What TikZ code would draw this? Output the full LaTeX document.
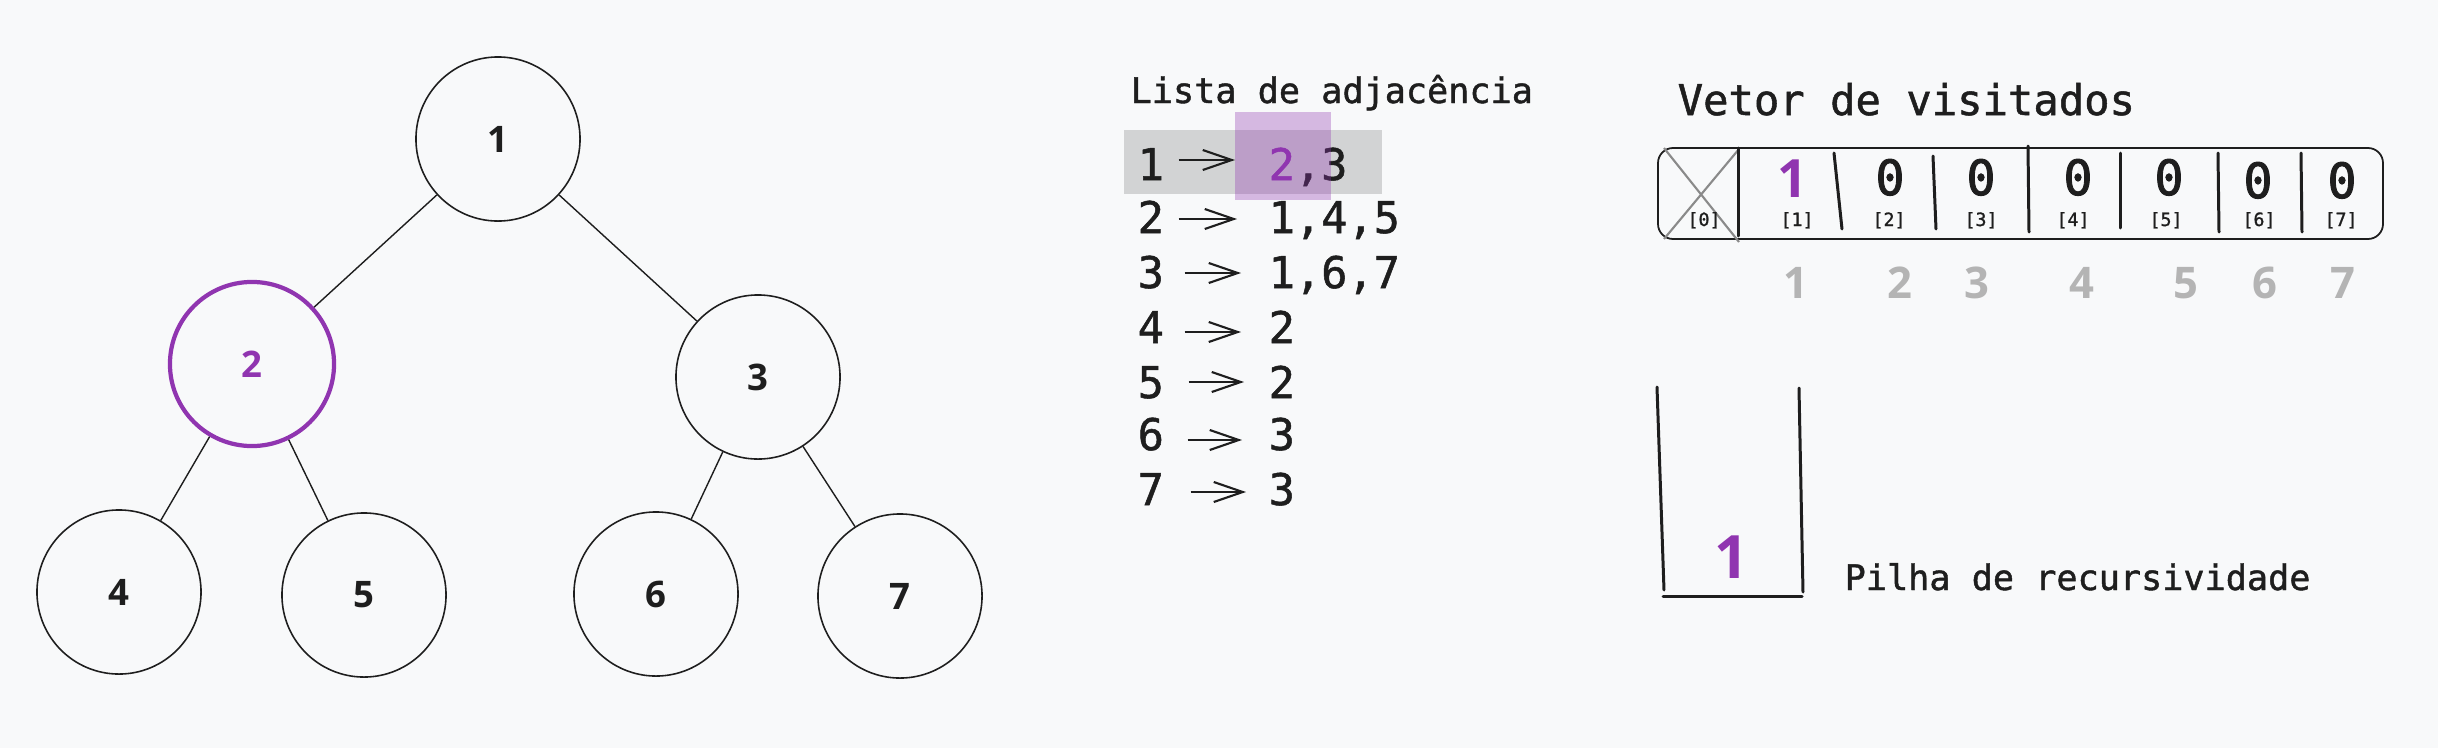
\documentclass[tikz,border=0pt]{standalone}
\usepackage{fontspec}
\usetikzlibrary{arrows.meta,calc}
\newfontfamily\monofont[FakeBold=1.2]{DejaVu Sans Mono}
\newfontfamily\monoheavy[FakeBold=1.8]{DejaVu Sans Mono}
\newfontfamily\digfont{Open Sans}
\definecolor{bgc}{HTML}{F8F9FA}
\definecolor{ink}{HTML}{1E1E1E}
\definecolor{vio}{HTML}{9035B0}
\definecolor{lightnum}{HTML}{B4B4B4}
\definecolor{crossgray}{HTML}{8A8A8A}
\definecolor{hlgray}{HTML}{D2D3D4}
\tikzset{
  treenode/.style={circle, draw=ink, line width=0.45pt, minimum size=1.64cm, inner sep=0pt,
    font=\digfont\bfseries\fontsize{10.4}{12}\selectfont, text=ink},
  visitednode/.style={draw=vio, line width=1.2pt, text=vio},
  treeedge/.style={draw=ink, line width=0.4pt},
  listtxt/.style={inner sep=0pt, anchor=base west, font=\monofont\fontsize{12.4}{14}\selectfont, text=ink},
  listarrow/.style={draw=ink, line width=0.6pt, -{Straight Barb[length=2.9mm,width=2mm]}},
  headtxt/.style={inner sep=0pt, anchor=base west, text=ink},
  cellval/.style={inner sep=0pt, anchor=base, font=\monoheavy\fontsize{13.8}{15}\selectfont, text=ink},
  zerodot/.style={fill=ink, draw=none},
  cellidx/.style={inner sep=0pt, anchor=base, font=\monofont\fontsize{5.2}{6}\selectfont, text=ink},
  grayidx/.style={inner sep=0pt, anchor=base, font=\digfont\bfseries\fontsize{12.4}{14}\selectfont, text=lightnum},
  divider/.style={draw=ink, line width=0.85pt, line cap=round},
  stackline/.style={draw=ink, line width=0.85pt, line cap=round},
}
\begin{document}
\begin{tikzpicture}[x=0.01cm,y=-0.01cm]
\fill[bgc] (0,0) rectangle (2438,748);
\useasboundingbox (0,0) rectangle (2438,748);

% ---------- tree ----------
\node[treenode] (n1) at (498,139) {1};
\node[treenode,visitednode] (n2) at (252,364) {2};
\node[treenode] (n3) at (758,377) {3};
\node[treenode] (n4) at (119,592) {4};
\node[treenode] (n5) at (364,595) {5};
\node[treenode] (n6) at (656,594) {6};
\node[treenode] (n7) at (900,596) {7};
\draw[treeedge] (n1) -- (n2);
\draw[treeedge] (n1) -- (n3);
\draw[treeedge] (n2) -- (n4);
\draw[treeedge] (n2) -- (n5);
\draw[treeedge] (n3) -- (n6);
\draw[treeedge] (n3) -- (n7);

% ---------- adjacency list ----------
\node[headtxt, font=\monofont\fontsize{10}{12}\selectfont] (ltitle) at (1130,103) {Lista de adjacência};
\fill[hlgray] (1124,130) rectangle (1382,194);
\node[listtxt] (l1) at (1137,180) {1};
\node[listtxt] (r1) at (1268,180) {\textcolor{vio}{2},3};
\node[listtxt] (l2) at (1137,233) {2};
\node[listtxt] (r2) at (1268,233) {1,4,5};
\node[listtxt] (l3) at (1137,288) {3};
\node[listtxt] (r3) at (1268,288) {1,6,7};
\node[listtxt] (l4) at (1137,343) {4};
\node[listtxt] (r4) at (1268,343) {2};
\node[listtxt] (l5) at (1137,398) {5};
\node[listtxt] (r5) at (1268,398) {2};
\node[listtxt] (l6) at (1137,450) {6};
\node[listtxt] (r6) at (1268,450) {3};
\node[listtxt] (l7) at (1137,505) {7};
\node[listtxt] (r7) at (1268,505) {3};
\draw[listarrow] ($(l1.base east)+(14,-20)$) -- ($(r1.base west)+(-33,-20)$);
\draw[listarrow] ($(l2.base east)+(14,-14)$) -- ($(r2.base west)+(-31,-14)$);
\draw[listarrow] ($(l3.base east)+(20,-15)$) -- ($(r3.base west)+(-27,-15)$);
\draw[listarrow] ($(l4.base east)+(20,-11)$) -- ($(r4.base west)+(-27,-11)$);
\draw[listarrow] ($(l5.base east)+(24,-16)$) -- ($(r5.base west)+(-24,-16)$);
\draw[listarrow] ($(l6.base east)+(23,-10)$) -- ($(r6.base west)+(-26,-10)$);
\draw[listarrow] ($(l7.base east)+(26,-13)$) -- ($(r7.base west)+(-22,-13)$);
\fill[vio, fill opacity=0.33] (1235,112) rectangle (1331,200);

% ---------- visited vector ----------
\node[headtxt, font=\monofont\fontsize{12}{14}\selectfont] (vtitle) at (1677,115) {Vetor de visitados};
\draw[ink, line width=0.5pt, rounded corners=1.5mm] (1658,148) rectangle (2383,239);
\draw[crossgray, line width=0.6pt] (1664,148) -- (1739,242);
\draw[crossgray, line width=0.6pt] (1664,239) -- (1739,149);
\draw[divider] (1738,148) -- (1738,236);
\draw[divider] (1834,153) -- (1842,229);
\draw[divider] (1933,156) -- (1936,229);
\draw[divider] (2028,146) -- (2029,232);
\draw[divider] (2120,153) -- (2120,228);
\draw[divider] (2218,153) -- (2219,232);
\draw[divider] (2301,153) -- (2302,232);

\node[cellval, font=\digfont\bfseries\fontsize{15}{17}\selectfont, text=vio] (v1) at (1793,197) {1};
\node[cellval] (v2) at (1890,195) {0};
\node[cellval] (v3) at (1981,195) {0};
\node[cellval] (v4) at (2078,195) {0};
\node[cellval] (v5) at (2169,195) {0};
\node[cellval] (v6) at (2258,198) {0};
\node[cellval] (v7) at (2342,198) {0};
\foreach \v in {v2,v3,v4,v5,v6,v7}{
  \fill[zerodot] ($(\v.base)+(0,-17.5)$) ellipse [x radius=3.3, y radius=4.2];
}

\node[cellidx] (i0) at (1704,226) {[0]};
\node[cellidx] (i1) at (1797,226) {[1]};
\node[cellidx] (i2) at (1889,226) {[2]};
\node[cellidx] (i3) at (1981,226) {[3]};
\node[cellidx] (i4) at (2073,226) {[4]};
\node[cellidx] (i5) at (2166,226) {[5]};
\node[cellidx] (i6) at (2259,226) {[6]};
\node[cellidx] (i7) at (2341,226) {[7]};

\node[grayidx] (g1) at (1796,298) {1};
\node[grayidx] (g2) at (1900,298) {2};
\node[grayidx] (g3) at (1977,298) {3};
\node[grayidx] (g4) at (2082,298) {4};
\node[grayidx] (g5) at (2186,298) {5};
\node[grayidx] (g6) at (2265,298) {6};
\node[grayidx] (g7) at (2343,298) {7};

% ---------- recursion stack ----------
\draw[stackline] (1657,387) -- (1664,590);
\draw[stackline] (1799,388) -- (1803,592);
\draw[stackline] (1663,596) -- (1802,596);
\node[inner sep=0pt, anchor=base, font=\digfont\bfseries\fontsize{17}{19}\selectfont, text=vio] (s1) at (1732,578) {1};
\node[headtxt, font=\monofont\fontsize{10}{12}\selectfont] (stitle) at (1844,590) {Pilha de recursividade};
\end{tikzpicture}
\end{document}
